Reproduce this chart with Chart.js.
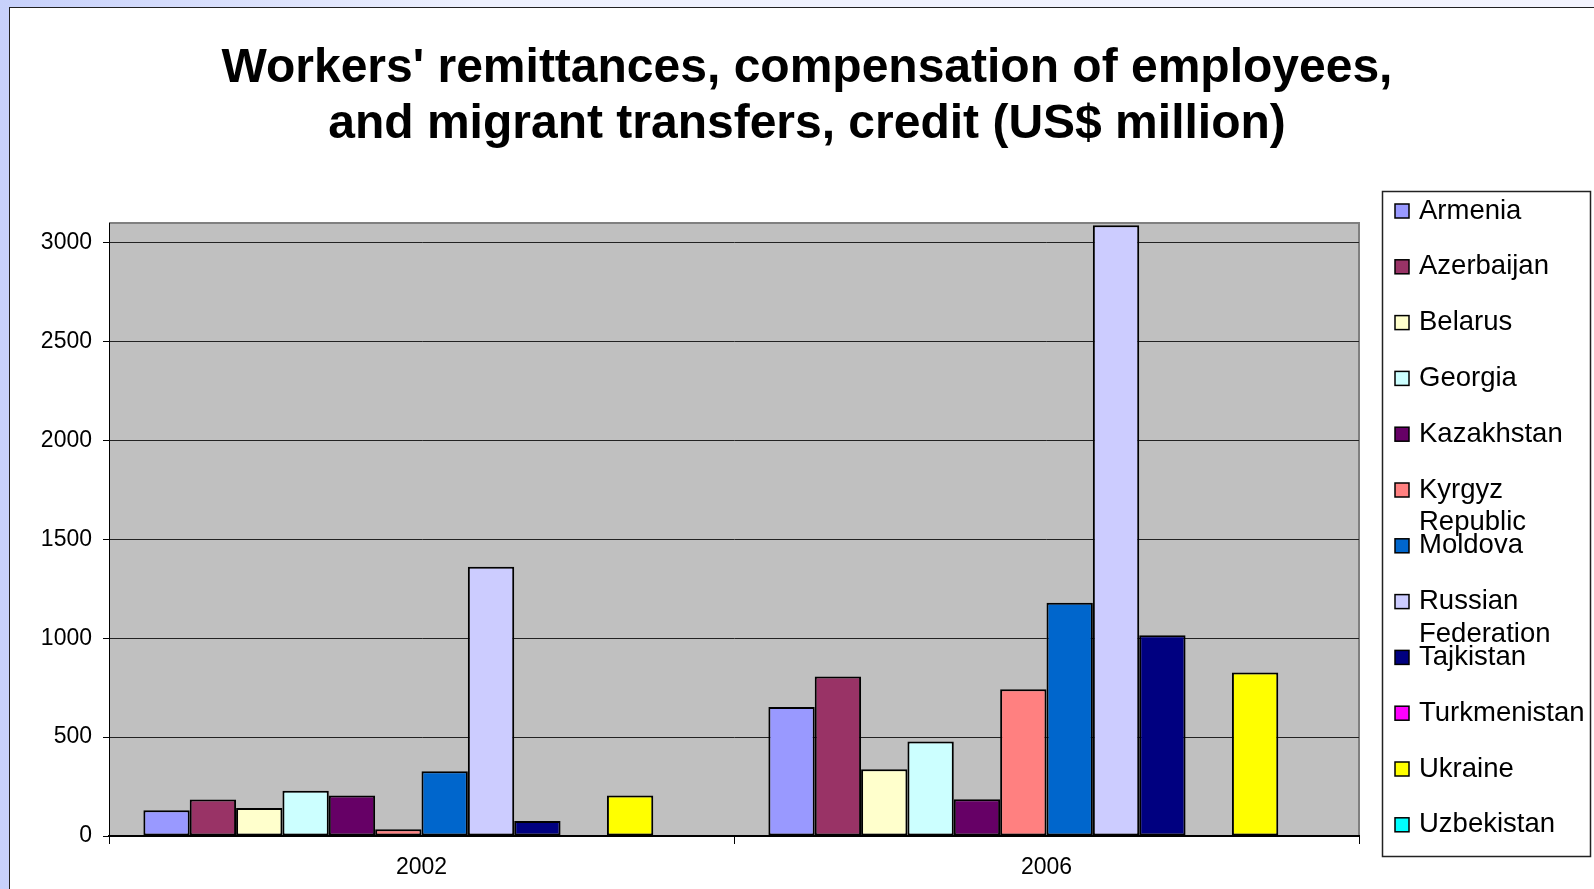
<!DOCTYPE html>
<html lang="en">
<head>
  <meta charset="UTF-8" />
  <title>Workers' remittances</title>
  <script src="https://cdn.jsdelivr.net/npm/chart.js"></script>
  <style>
    * { box-sizing: border-box; margin: 0; padding: 0; }
    html, body { width: 1594px; height: 889px; overflow: hidden; }
    body {
      background: linear-gradient(to right, #c7d1fb, #eef1fe 30%, #f3f4fe);
      position: relative;
    }
    .box {
      position: absolute;
      left: 9px; top: 7px; right: -2px; bottom: -2px;
      background: #fff;
      border: 1px solid #222;
    }
    .wrap {
      position: absolute;
      left: 0; top: 0;
      width: 1594px; height: 889px;
    }
  </style>
</head>
<body>
  <div class="box"></div>
  <div class="wrap"><canvas id="chart"></canvas></div>

  <script>
    const years = ['2002', '2006'];
    const countries = ['Armenia', 'Azerbaijan', 'Belarus', 'Georgia', 'Kazakhstan', 'Kyrgyz Republic',
      'Moldova', 'Russian Federation', 'Tajkistan', 'Turkmenistan', 'Ukraine', 'Uzbekistan'];
    // legend lines (wrapped the way the original legend wraps)
    const legendLines = [['Armenia'], ['Azerbaijan'], ['Belarus'], ['Georgia'], ['Kazakhstan'],
      ['Kyrgyz', 'Republic'], ['Moldova'], ['Russian', 'Federation'], ['Tajkistan'],
      ['Turkmenistan'], ['Ukraine'], ['Uzbekistan']];
    const colors = ['#9999FF', '#993366', '#FFFFCC', '#CCFFFF', '#660066', '#FF8080',
      '#0066CC', '#CCCCFF', '#000080', '#FF00FF', '#FFFF00', '#00FFFF'];

    // values per country: [2002, 2006]
    const armenia = [130, 652];
    const azerbaijan = [185, 806];
    const belarus = [141, 337];
    const georgia = [229, 478];
    const kazakhstan = [205, 186];
    const kyrgyz = [34, 742];
    const moldova = [328, 1179];
    const russia = [1362, 3088];
    const tajikistan = [76, 1015];
    const turkmenistan = [null, null];
    const ukraine = [205, 827];
    const uzbekistan = [null, null];
    const values = [armenia, azerbaijan, belarus, georgia, kazakhstan, kyrgyz,
      moldova, russia, tajikistan, turkmenistan, ukraine, uzbekistan];

    const yTicks = [0, 500, 1000, 1500, 2000, 2500, 3000];
    const yMax = 3100;

    const titleLines = ["Workers' remittances, compensation of employees,",
      "and migrant transfers, credit (US$ million)"];

    const FONT = "'Liberation Sans', Arial, sans-serif";

    const plotBg = {
      id: 'plotBg',
      beforeDraw(chart) {
        const { ctx, chartArea: a } = chart;
        ctx.save();
        ctx.fillStyle = '#C0C0C0';
        ctx.fillRect(a.left, a.top, a.right - a.left, a.bottom - a.top);
        ctx.strokeStyle = '#808080';
        ctx.lineWidth = 2;
        ctx.beginPath();
        ctx.moveTo(a.left, a.top);
        ctx.lineTo(a.right, a.top);
        ctx.lineTo(a.right, a.bottom);
        ctx.stroke();
        ctx.restore();
      }
    };

    const titleAndLegend = {
      id: 'titleAndLegend',
      afterDraw(chart) {
        const ctx = chart.ctx;
        ctx.save();
        // title
        ctx.fillStyle = '#000';
        ctx.textAlign = 'center';
        ctx.textBaseline = 'middle';
        ctx.font = 'bold 48px ' + FONT;
        ctx.fillText(titleLines[0], 807, 69);
        ctx.fillText(titleLines[1], 807, 125);

        // legend box
        ctx.fillStyle = '#fff';
        ctx.fillRect(1382, 191, 209, 666);
        ctx.strokeStyle = '#222';
        ctx.lineWidth = 1.5;
        ctx.strokeRect(1382.5, 191.5, 208, 665);

        ctx.font = '27.5px ' + FONT;
        ctx.textAlign = 'left';
        chart.data.datasets.forEach((ds, i) => {
          const y = 210 + i * 55.8;
          ctx.fillStyle = ds.backgroundColor;
          ctx.fillRect(1395, y - 6, 14, 14);
          ctx.strokeStyle = '#000';
          ctx.lineWidth = 1.5;
          ctx.strokeRect(1395, y - 6, 14, 14);
          ctx.fillStyle = '#000';
          legendLines[i].forEach((t, j) => ctx.fillText(t, 1419, y + 1 + j * 32.5));
        });
        ctx.restore();
      }
    };

    new Chart(document.getElementById('chart'), {
      type: 'bar',
      data: {
        labels: years,
        datasets: countries.map((c, i) => ({
          label: c,
          data: values[i],
          backgroundColor: colors[i],
          borderColor: '#000',
          borderWidth: 2,
          borderSkipped: false,
          categoryPercentage: 0.89,
          barPercentage: 1.0
        }))
      },
      options: {
        responsive: true,
        maintainAspectRatio: false,
        animation: false,
        layout: { padding: { top: 223, right: 235, left: 0, bottom: 0 } },
        plugins: {
          legend: { display: false },
          title: { display: false },
          tooltip: { enabled: false }
        },
        scales: {
          x: {
            afterFit(scale) { scale.height = 53; },
            grid: {
              offset: true,
              drawOnChartArea: false,
              tickLength: 8,
              color: '#000'
            },
            border: { color: '#000', width: 2 },
            ticks: {
              color: '#000',
              padding: 10,
              font: { family: FONT, size: 23 }
            }
          },
          y: {
            min: 0,
            max: yMax,
            afterFit(scale) { scale.width = 109; },
            afterBuildTicks(scale) { scale.ticks = yTicks.map(v => ({ value: v })); },
            grid: {
              color: '#222',
              lineWidth: 1,
              tickLength: 6,
              tickColor: '#000'
            },
            border: { color: '#000', width: 1 },
            ticks: {
              color: '#000',
              padding: 11,
              font: { family: FONT, size: 23 },
              callback: v => String(v)
            }
          }
        }
      },
      plugins: [plotBg, titleAndLegend]
    });
  </script>
</body>
</html>
